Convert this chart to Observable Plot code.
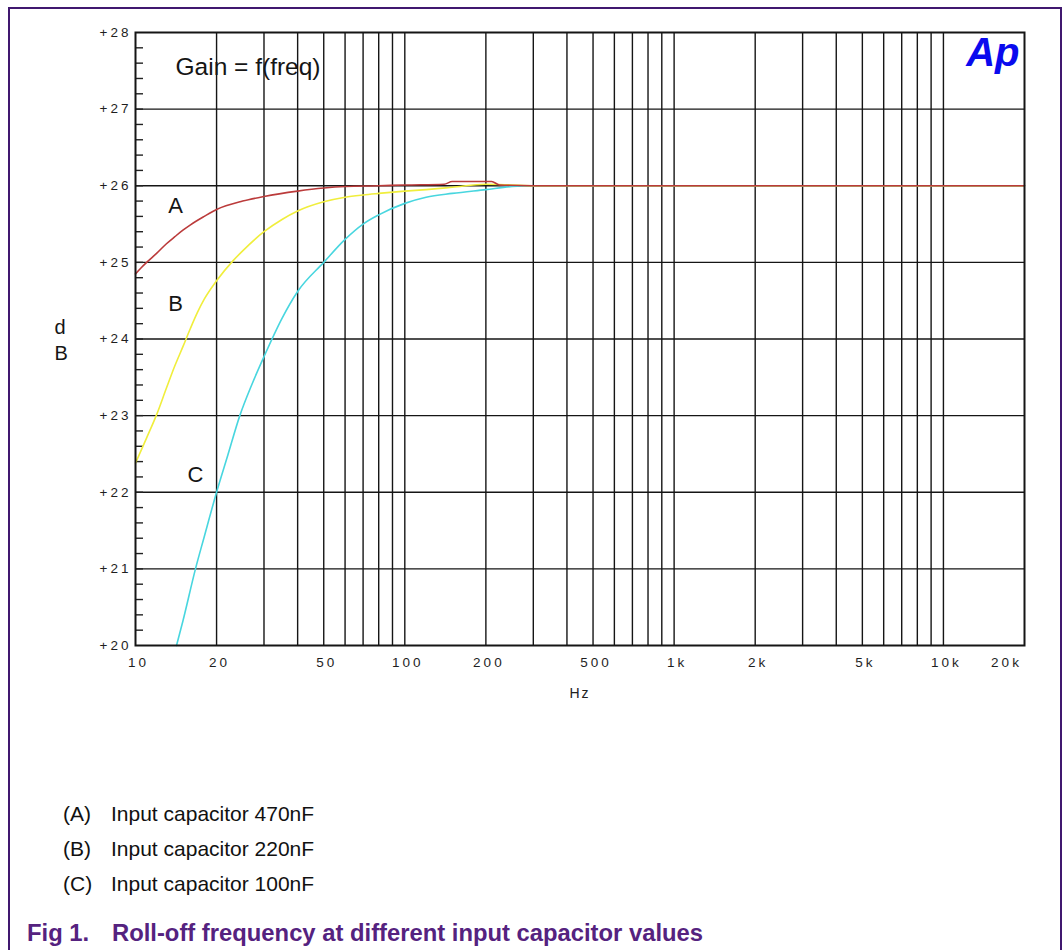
<!DOCTYPE html>
<html>
<head>
<meta charset="utf-8">
<script src="https://cdn.jsdelivr.net/npm/d3@7"></script>
<script src="https://cdn.jsdelivr.net/npm/@observablehq/plot@0.6"></script>
<style>
  html, body { margin: 0; padding: 0; background: #fff; }
  #page { position: relative; width: 1064px; height: 950px; overflow: hidden; font-family: "Liberation Sans", Arial, sans-serif; }
  #frame { position: absolute; left: 8px; top: 7px; width: 1050px; height: 1000px; border: 2px solid #40186f; }
  #chart { position: absolute; left: 0; top: 0; }
  .leg { position: absolute; font-size: 21px; color: #111; line-height: 1; }
  .cap { position: absolute; font-size: 23.8px; font-weight: bold; color: #55227f; line-height: 1; white-space: pre; }
  g[aria-label="y-axis tick label"] text { letter-spacing: 3px; }
  g.xtl text { letter-spacing: 3px; }
  g.hz text { letter-spacing: 2px; }
</style>
</head>
<body>
<div id="page">
  <div id="frame"></div>
  <div id="chart"></div>
</div>
<script>
// ---------- data ----------
const freqA = [10, 10.5, 11, 12, 13, 14, 15, 16, 18, 20, 25, 30, 40, 50, 60, 80, 100, 140, 150, 210, 225, 300, 500, 1000, 2000, 5000, 10000, 20000];
const dbA   = [24.85, 24.93, 25.0, 25.12, 25.24, 25.335, 25.42, 25.49, 25.6, 25.69, 25.8, 25.86, 25.93, 25.97, 25.99, 26.0, 26.01, 26.02, 26.055, 26.055, 26.01, 26.0, 26.0, 26.0, 26.0, 26.0, 26.0, 26.0];

const freqB = [10, 11, 12, 13, 14, 15, 16, 17, 18, 20, 23, 25, 30, 35, 40, 50, 60, 70, 80, 100, 120, 150, 200, 250, 300, 500, 1000, 2000, 5000, 10000, 20000];
const dbB   = [22.38, 22.71, 23.02, 23.35, 23.65, 23.9, 24.14, 24.35, 24.52, 24.76, 25.02, 25.15, 25.4, 25.56, 25.67, 25.79, 25.85, 25.88, 25.9, 25.93, 25.95, 25.98, 26.02, 26.01, 26.0, 26.0, 26.0, 26.0, 26.0, 26.0, 26.0];

const freqC = [14.2, 15, 16.7, 18, 20, 22, 24.4, 27, 30, 35, 40, 50, 60, 70, 80, 100, 120, 150, 200, 250, 300, 500, 1000, 2000, 5000, 10000, 20000];
const dbC   = [20.0, 20.32, 21.0, 21.42, 22.0, 22.48, 23.0, 23.4, 23.77, 24.27, 24.62, 25.0, 25.3, 25.5, 25.62, 25.77, 25.85, 25.9, 25.95, 25.99, 26.0, 26.0, 26.0, 26.0, 26.0, 26.0, 26.0];

const seriesNames  = ["C", "B", "A"];
const seriesColors = ["#48d6df", "#f0ee3c", "#bb3b3b"];

const xTickVals   = [10, 20, 50, 100, 200, 500, 1000, 2000, 5000, 10000, 20000];
const xTickLabels = ["10", "20", "50", "100", "200", "500", "1k", "2k", "5k", "10k", "20k"];
const gridFreqs = [20, 30, 40, 50, 60, 70, 80, 90, 100, 200, 300, 400, 500, 600, 700, 800, 900, 1000, 2000, 3000, 4000, 5000, 6000, 7000, 8000, 9000, 10000];
const yTickVals = [20, 21, 22, 23, 24, 25, 26, 27, 28];
const gridDb = [21, 22, 23, 24, 25, 26, 27];
const minorDb = d3.range(20.2, 28, 0.2).map(v => +v.toFixed(1));

const curveLabels = ["A", "B", "C"];
const curveLabelFreq = [14.1, 14.1, 16.7];
const curveLabelDb = [25.74, 24.46, 22.23];

const legendKeys = ["(A)", "(B)", "(C)"];
const legendTexts = ["Input capacitor 470nF", "Input capacitor 220nF", "Input capacitor 100nF"];
const captionNum = "Fig 1.";
const captionText = "Roll-off frequency at different input capacitor values";

// ---------- build ----------
const rows = [];
[["A", freqA, dbA], ["B", freqB, dbB], ["C", freqC, dbC]].forEach(([s, f, v]) => {
  f.forEach((fr, i) => rows.push({series: s, freq: fr, db: v[i]}));
});
const labels = curveLabels.map((t, i) => ({t, f: curveLabelFreq[i], v: curveLabelDb[i]}));
const xTicks = xTickVals.map((v, i) => ({v, t: xTickLabels[i]}));

const lineMarks = seriesNames.map((s, i) =>
  Plot.line(rows.filter(r => r.series === s), {x: "freq", y: "db", stroke: seriesColors[i], strokeWidth: 1.6, curve: "monotone-x"})
);

const chart = Plot.plot({
  width: 1064,
  height: 720,
  marginLeft: 135,
  marginRight: 40,
  marginTop: 32,
  marginBottom: 75,
  x: {type: "log", domain: [10, 20000], axis: null},
  y: {domain: [20, 28], axis: null},
  style: {fontFamily: "'Liberation Sans', Arial, sans-serif", background: "transparent", overflow: "visible", color: "#222"},
  marks: [
    Plot.ruleX(gridFreqs, {stroke: "#151515", strokeWidth: 1.4}),
    Plot.ruleY(gridDb, {stroke: "#151515", strokeWidth: 1.4}),
    Plot.axisY({ticks: minorDb, tickSize: -8, tickFormat: () => "", label: null, stroke: "#222", strokeWidth: 1.4}),
    Plot.axisY({ticks: yTickVals, tickSize: 0, tickPadding: 4, tickFormat: d => "+" + d, fontSize: 13.5, fill: "#1e1e1e", label: null}),
    Plot.text(xTicks.slice(0, -1), {x: "v", text: "t", frameAnchor: "bottom", dy: 21, dx: 3, fontSize: 13.5, fill: "#1e1e1e", className: "xtl"}),
    Plot.text(xTicks.slice(-1), {x: "v", text: "t", frameAnchor: "bottom", dy: 21, dx: -18, fontSize: 13.5, fill: "#1e1e1e", className: "xtl"}),
    ...lineMarks,
    Plot.frame({stroke: "#151515", strokeWidth: 2}),
    Plot.text(labels, {x: "f", y: "v", text: "t", fontSize: 22, fill: "#151515"}),
    Plot.text(["Gain = f(freq)"], {text: d => d, frameAnchor: "top-left", dx: 40, dy: 25, lineAnchor: "top", textAnchor: "start", fontSize: 24.5, fill: "#151515"}),
    Plot.text(["Ap"], {text: d => d, frameAnchor: "top-right", dx: -5, dy: 5, lineAnchor: "top", textAnchor: "end", fontSize: 40, fontWeight: "bold", fontStyle: "italic", fill: "#0a0aee"}),
    Plot.text(["Hz"], {text: d => d, frameAnchor: "bottom", dx: 0, dy: 52, fontSize: 14, fill: "#222", className: "hz"}),
    Plot.text(["d\nB"], {text: d => d, frameAnchor: "left", dx: -81, fontSize: 20, lineHeight: 1.3, fill: "#151515"})
  ]
});
document.getElementById("chart").appendChild(chart);

// legend + caption
const page = document.getElementById("page");
const legTops = [806, 841, 876];
legendKeys.forEach((k, i) => {
  const a = document.createElement("div");
  a.className = "leg"; a.textContent = k;
  a.style.left = "63px"; a.style.top = (legTops[i] - 3) + "px";
  page.appendChild(a);
  const b = document.createElement("div");
  b.className = "leg"; b.textContent = legendTexts[i];
  b.style.left = "111px"; b.style.top = (legTops[i] - 3) + "px";
  page.appendChild(b);
});
const c1 = document.createElement("div");
c1.className = "cap"; c1.textContent = captionNum;
c1.style.left = "27px"; c1.style.top = "921px";
page.appendChild(c1);
const c2 = document.createElement("div");
c2.className = "cap"; c2.textContent = captionText;
c2.style.left = "112px"; c2.style.top = "921px";
page.appendChild(c2);
</script>
</body>
</html>
